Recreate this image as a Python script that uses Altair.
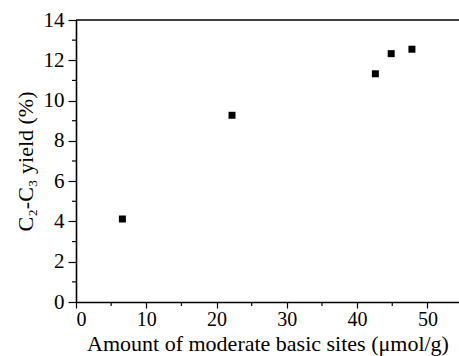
import altair as alt
import pandas as pd

x_vals = [6.6, 22.2, 42.6, 44.85, 47.8]
y_vals = [4.12, 9.27, 11.33, 12.33, 12.55]
x_ticks = [0, 10, 20, 30, 40, 50]
y_ticks = [0, 2, 4, 6, 8, 10, 12, 14]
x_minor = [5, 15, 25, 35, 45]
y_minor = [1, 3, 5, 7, 9, 11, 13]

W, H = 383, 282
FONT = "Liberation Serif"

df = pd.DataFrame({"x": x_vals, "y": y_vals})
xs = alt.Scale(domain=[0, 54.5], nice=False, zero=False)
ys = alt.Scale(domain=[0, 14], nice=False)

points = alt.Chart(df).mark_square(size=49, color="black", opacity=1).encode(
    x=alt.X("x:Q", scale=xs,
            axis=alt.Axis(values=x_ticks, title="Amount of moderate basic sites (μmol/g)",
                          grid=False, tickSize=6, labelPadding=1, titlePadding=4,
                          labelFontSize=20, format="d")),
    y=alt.Y("y:Q", scale=ys,
            axis=alt.Axis(values=y_ticks, title="C₂-C₃ yield (%)", grid=False,
                          tickSize=8, labelPadding=4, titlePadding=6, format="d")),
)

ymin = alt.Chart(pd.DataFrame({"y": y_minor})).mark_rule(color="black", strokeWidth=1.2).encode(
    y=alt.Y("y:Q", scale=ys), x=alt.value(-4), x2=alt.value(0))
xmin = alt.Chart(pd.DataFrame({"x": x_minor})).mark_rule(color="black", strokeWidth=1.2).encode(
    x=alt.X("x:Q", scale=xs), y=alt.value(H), y2=alt.value(H + 4))
top = alt.Chart(pd.DataFrame({"a": [0]})).mark_rule(color="black", strokeWidth=1.6).encode(
    y=alt.value(0), x=alt.value(0), x2=alt.value(W))

chart = alt.layer(points, ymin, xmin, top).properties(
    width=W, height=H,
    background="white",
    autosize=alt.AutoSizeParams(type="none"),
    padding={"left": 76, "top": 20, "right": 0, "bottom": 54},
).configure_view(stroke=None).configure_axis(
    domainColor="black", domainWidth=1.6, tickColor="black", tickWidth=1.2,
    labelColor="black", titleColor="black", labelFont=FONT, titleFont=FONT,
    labelFontSize=21, titleFontSize=22, titleFontWeight="normal",
)

chart.save("out.html", embed_options={"renderer": "svg", "actions": False})
